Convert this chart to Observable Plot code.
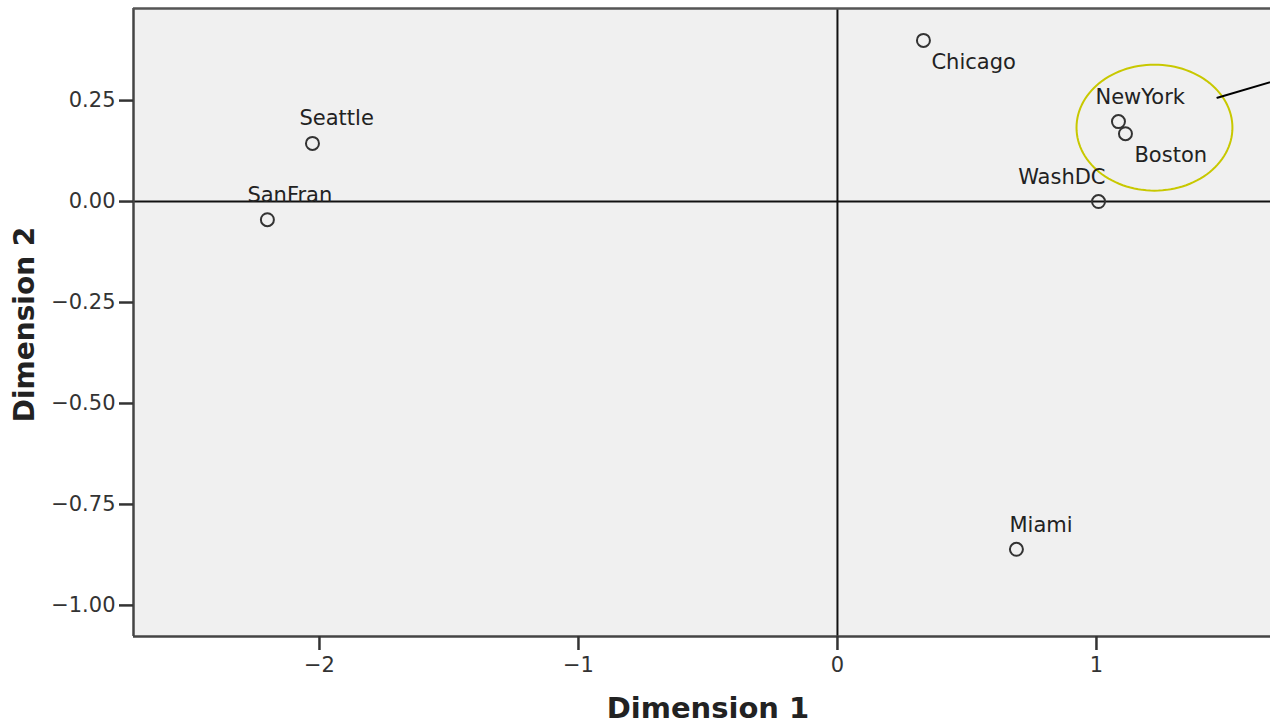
<!DOCTYPE html>
<html>
<head>
<meta charset="utf-8">
<script src="https://cdn.jsdelivr.net/npm/d3@7"></script>
<script src="https://cdn.jsdelivr.net/npm/@observablehq/plot@0.6"></script>
<style>
  html, body { margin: 0; padding: 0; background: #fff; }
  #chart svg { display: block; }
</style>
</head>
<body>
<div id="chart"></div>
<script>
// ---- data ----
const cities = ["Seattle", "SanFran", "Chicago", "NewYork", "Boston", "WashDC", "Miami"];
const dim1   = [-2.027, -2.201, 0.332, 1.085, 1.112, 1.008, 0.691];
const dim2   = [0.144, -0.045, 0.399, 0.198, 0.168, 0.000, -0.861];
const xTicks = [-2, -1, 0, 1];
const yTicks = [0.25, 0.00, -0.25, -0.50, -0.75, -1.00];

// ---- label placement (pixels, styling only) ----
const labelDx = [-13, -20, 8, -23, 9, 7, -7];
const labelDy = [-25, -24, 22, -24, 22, -24, -24];
const labelAnchor = ["start", "start", "start", "start", "start", "end", "start"];

// ---- annotation (ellipse around NewYork/Boston and pointer line) ----
const ellipseCenter = [1.224, 0.183];
const ellipseRadii = [0.301, 0.156];
const pointerX = [1.467, 1.80];
const pointerY = [0.257, 0.320];

const xDomain = [-2.718, 1.672];
const yDomain = [-1.077, 0.478];

const points = cities.map((c, i) => ({city: c, x: dim1[i], y: dim2[i]}));
const ellipse = d3.range(0, 361, 3).map(a => ({
  x: ellipseCenter[0] + ellipseRadii[0] * Math.cos(a * Math.PI / 180),
  y: ellipseCenter[1] + ellipseRadii[1] * Math.sin(a * Math.PI / 180)
}));
const pointer = pointerX.map((x, i) => ({x, y: pointerY[i]}));

const labelMarks = points.map((p, i) => Plot.text([p], {
  x: "x", y: "y", text: "city",
  dx: labelDx[i], dy: labelDy[i], textAnchor: labelAnchor[i],
  fontSize: 21, fill: "#222"
}));

const chart = Plot.plot({
  width: 1270,
  height: 726,
  marginLeft: 133,
  marginRight: 0,
  marginTop: 8,
  marginBottom: 90,
  style: {fontFamily: "DejaVu Sans", fontSize: "21px", color: "#333", background: "#fff"},
  x: {domain: xDomain},
  y: {domain: yDomain},
  marks: [
    Plot.frame({fill: "#f0f0f0", stroke: null}),
    Plot.ruleY([0], {stroke: "#111", strokeWidth: 2}),
    Plot.ruleX([0], {stroke: "#111", strokeWidth: 2}),
    Plot.ruleX([xDomain[0]], {stroke: "#444", strokeWidth: 2.5}),
    Plot.ruleY([yDomain[0]], {stroke: "#444", strokeWidth: 2.5}),
    Plot.ruleY([yDomain[1]], {stroke: "#555", strokeWidth: 2.5}),
    Plot.axisX({ticks: xTicks, tickSize: 14, tickPadding: 7, tickFormat: d3.format("d"),
      fontSize: 21, stroke: "#333", strokeWidth: 2.5, label: null}),
    Plot.axisY({ticks: yTicks, tickSize: 14, tickPadding: 4, tickFormat: d3.format(".2f"),
      fontSize: 21, stroke: "#333", strokeWidth: 2.5, label: null}),
    Plot.line(ellipse, {x: "x", y: "y", stroke: "#c8c800", strokeWidth: 2, curve: "linear"}),
    Plot.line(pointer, {x: "x", y: "y", stroke: "#000", strokeWidth: 2, clip: true}),
    Plot.dot(points, {x: "x", y: "y", r: 6.5, stroke: "#333", strokeWidth: 2, fill: "none"}),
    ...labelMarks,
    Plot.text(["Dimension 1"], {frameAnchor: "bottom", dx: 6, dy: 81, fontSize: 29,
      fontWeight: "bold", fill: "#222"}),
    Plot.text(["Dimension 2"], {frameAnchor: "left", textAnchor: "middle", dx: -108, dy: 2,
      rotate: -90, fontSize: 28, fontWeight: "bold", fill: "#222"})
  ]
});
document.getElementById("chart").appendChild(chart);
</script>
</body>
</html>
